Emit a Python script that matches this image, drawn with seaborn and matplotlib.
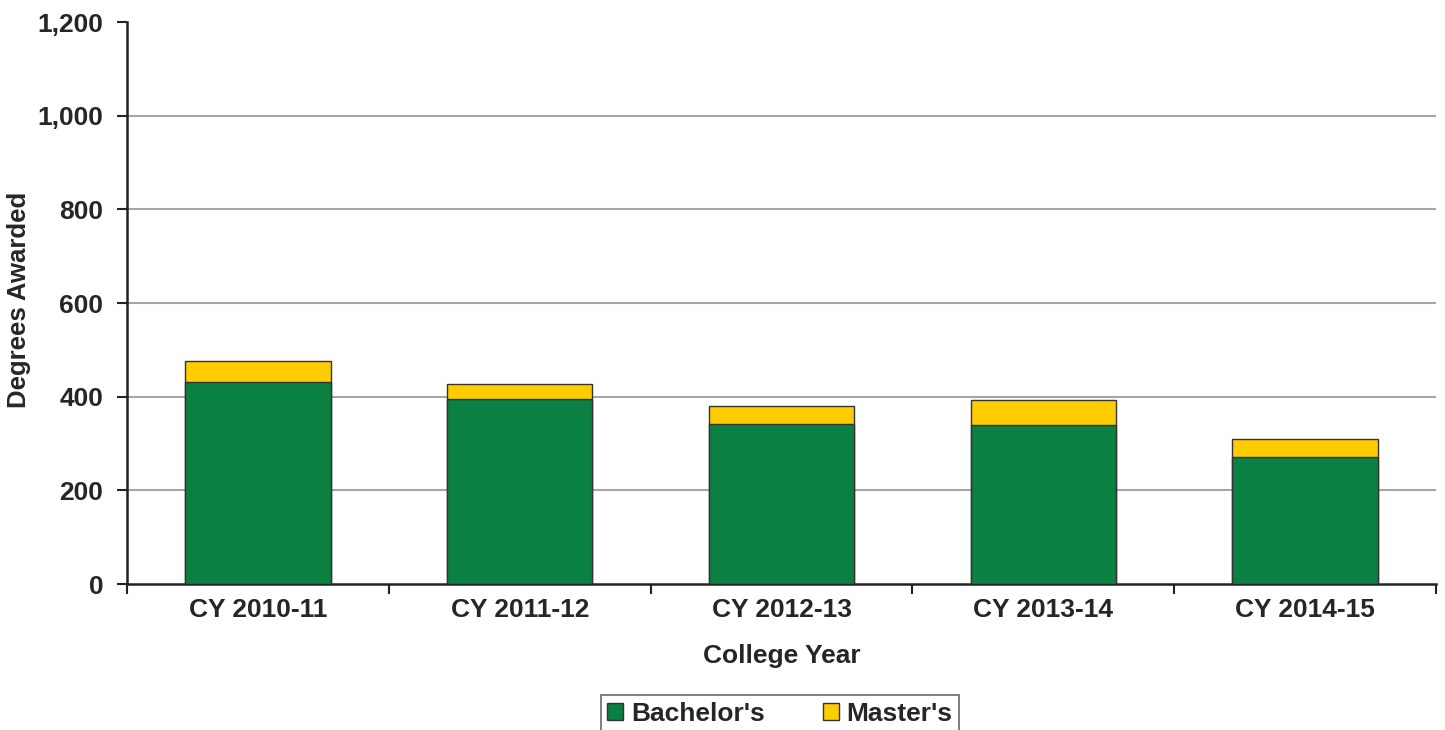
import matplotlib
matplotlib.use("Agg")
import matplotlib.pyplot as plt
import matplotlib.ticker as mticker
from matplotlib.patches import Patch
import numpy as np
import pandas as pd
import seaborn as sns

years = ["CY 2010-11", "CY 2011-12", "CY 2012-13", "CY 2013-14", "CY 2014-15"]
bachelors = [432, 394, 342, 340, 271]
masters = [45, 33, 39, 53, 38]

GREEN = "#0b8043"
YELLOW = "#ffcc00"
FS = 19

df = pd.DataFrame({"Year": years, "Bachelor's": bachelors, "Master's": masters})
df["Total"] = df["Bachelor's"] + df["Master's"]

sns.set_theme(style="white")
plt.rcParams["font.family"] = ["Liberation Sans", "DejaVu Sans"]
plt.rcParams["font.weight"] = "bold"

fig = plt.figure(figsize=(14.45, 7.3), dpi=100)
ax = fig.add_axes([127 / 1445, 1 - 584 / 730, (1436 - 127) / 1445, (584 - 22) / 730])

# horizontal gridlines (none at the top)
for yv in range(200, 1200, 200):
    ax.axhline(yv, color="#a6a6a6", linewidth=1.5, zorder=0)

sns.barplot(data=df, x="Year", y="Total", color=YELLOW, width=0.555,
            edgecolor="#333333", linewidth=1.0, saturation=1, ax=ax, zorder=3)
sns.barplot(data=df, x="Year", y="Bachelor's", color=GREEN, width=0.555,
            edgecolor="#333333", linewidth=1.0, saturation=1, ax=ax, zorder=3)

ax.set_ylim(0, 1200)
ax.set_xlim(-0.5, len(years) - 0.5)
ax.yaxis.set_major_locator(mticker.MultipleLocator(200))
ax.yaxis.set_major_formatter(mticker.StrMethodFormatter("{x:,.0f}"))
ax.grid(False)

ax.set_xticks(np.arange(-0.5, len(years), 1.0), minor=True)
ax.tick_params(axis="x", which="major", length=0, pad=10, labelsize=FS)
ax.tick_params(axis="x", which="minor", length=7, width=1.5, color="#222222",
               direction="out", bottom=True)
ax.tick_params(axis="y", length=7, width=1.5, color="#222222", direction="out",
               left=True, pad=10, labelsize=FS)

ax.set_xlabel("College Year", fontsize=FS, fontweight="bold", labelpad=16)
ax.set_ylabel("Degrees Awarded", fontsize=18.5, fontweight="bold")
ax.yaxis.set_label_coords(-0.0735, 0.505)

for side in ["top", "right"]:
    ax.spines[side].set_visible(False)
for side in ["left", "bottom"]:
    ax.spines[side].set_color("#222222")
    ax.spines[side].set_linewidth(1.8)

handles = [Patch(facecolor=GREEN, edgecolor="#333333", label="Bachelor's"),
           Patch(facecolor=YELLOW, edgecolor="#333333", label="Master's")]
leg = fig.legend(handles=handles, loc="upper center", bbox_to_anchor=(780 / 1445, 35 / 730),
                 ncol=2, fontsize=FS, frameon=True, fancybox=False, edgecolor="#444444",
                 handlelength=0.6, handleheight=0.6, handletextpad=0.3, columnspacing=2.2,
                 borderpad=0.25, borderaxespad=0)
leg.get_frame().set_linewidth(1.2)

fig.savefig("out.png", dpi=100)
